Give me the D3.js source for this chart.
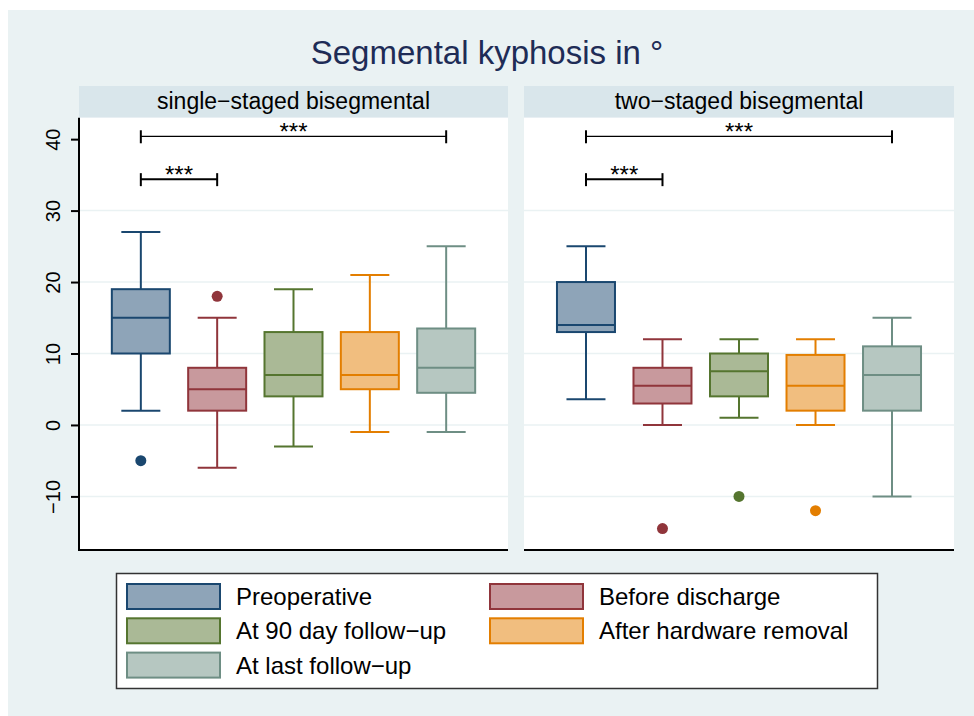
<!DOCTYPE html>
<html>
<head>
<meta charset="utf-8">
<script src="https://cdn.jsdelivr.net/npm/d3@7"></script>
<style>
  body { margin: 0; background: #fff; }
  text { font-family: "Liberation Sans", Arial, sans-serif; }
</style>
</head>
<body>
<div id="container"></div>
<script>
// groups shown in each panel (legend order)
const groups = ["Preoperative", "Before discharge", "At 90 day follow\u2212up", "After hardware removal", "At last follow\u2212up"];
const panels = ["single\u2212staged bisegmental", "two\u2212staged bisegmental"];

// [lower whisker, q1, median, q3, upper whisker]
const singleStats = [
  [2, 10, 15, 19, 27],
  [-6, 2, 5, 8, 15],
  [-3, 4, 7, 13, 19],
  [-1, 5, 7, 13, 21],
  [-1, 4.5, 8, 13.5, 25]
];
const singleOutliers = [[-5], [18], [], [], []];

const twoStats = [
  [3.6, 13, 14, 20, 25],
  [0, 3, 5.5, 8, 12],
  [1, 4, 7.5, 10, 12],
  [0, 2, 5.5, 9.8, 12],
  [-10, 2, 7, 11, 15]
];
const twoOutliers = [[], [-14.5], [-10], [-12], []];

const yTicks = [-10, 0, 10, 20, 30, 40];

// significance brackets: group index from/to, height in degrees
const bracketFrom = [0, 0];
const bracketTo = [1, 4];
const bracketLevel = [34.4, 40.4];
const bracketLabel = ["***", "***"];

const strokeColors = ["#1a476f", "#90353b", "#55752f", "#e37e00", "#6e8e84"];
const fillColors = ["#8ea4b8", "#c8999d", "#aab996", "#f1be7f", "#b6c7c1"];

const w = 974;
const h = 716;
const plotTop = 117.7;
const plotBottom = 550;
const panelX = [[79, 508], [524, 954]];

const svg = d3.select("#container")
  .append("svg")
  .attr("width", w)
  .attr("height", h);

svg.append("rect")
  .attr("x", 8).attr("y", 10)
  .attr("width", w - 8).attr("height", h - 10)
  .attr("fill", "#eaf2f3");

svg.append("text")
  .attr("x", 487)
  .attr("y", 64)
  .attr("text-anchor", "middle")
  .attr("fill", "#1e2c56")
  .style("font-size", "33px")
  .text("Segmental kyphosis in \u00b0");

const yScale = d3.scaleLinear()
  .domain([-17.5, 43])
  .range([plotBottom, plotTop]);

const panelData = [
  { stats: singleStats, outliers: singleOutliers },
  { stats: twoStats, outliers: twoOutliers }
];

panelData.forEach((p, pi) => {
  const [x0, x1] = panelX[pi];
  const xScale = d3.scalePoint()
    .domain(groups)
    .range([x0, x1])
    .padding(0.81);

  // header strip
  svg.append("rect")
    .attr("x", x0).attr("y", 86)
    .attr("width", x1 - x0).attr("height", plotTop - 86)
    .attr("fill", "#d9e6eb");
  svg.append("text")
    .attr("x", (x0 + x1) / 2)
    .attr("y", 109)
    .attr("text-anchor", "middle")
    .attr("fill", "#000")
    .style("font-size", "23px")
    .text(panels[pi]);

  // plot region
  svg.append("rect")
    .attr("x", x0).attr("y", plotTop)
    .attr("width", x1 - x0).attr("height", plotBottom - plotTop)
    .attr("fill", "#fff");

  const g = svg.append("g");

  g.selectAll("line.grid")
    .data(yTicks.filter(t => t < 40))
    .enter()
    .append("line")
    .attr("class", "grid")
    .attr("x1", x0).attr("x2", x1)
    .attr("y1", d => yScale(d)).attr("y2", d => yScale(d))
    .attr("stroke", "#eaf2f3")
    .attr("stroke-width", 1.5);

  const boxW = 58;
  const capW = 39;

  const boxes = g.selectAll("g.box")
    .data(p.stats)
    .enter()
    .append("g")
    .attr("class", "box");

  // whiskers
  boxes.append("line")
    .attr("x1", (d, i) => xScale(groups[i])).attr("x2", (d, i) => xScale(groups[i]))
    .attr("y1", d => yScale(d[0])).attr("y2", d => yScale(d[4]))
    .attr("stroke", (d, i) => strokeColors[i])
    .attr("stroke-width", 2);
  [0, 4].forEach(k => {
    boxes.append("line")
      .attr("x1", (d, i) => xScale(groups[i]) - capW / 2)
      .attr("x2", (d, i) => xScale(groups[i]) + capW / 2)
      .attr("y1", d => yScale(d[k])).attr("y2", d => yScale(d[k]))
      .attr("stroke", (d, i) => strokeColors[i])
      .attr("stroke-width", 2);
  });

  boxes.append("rect")
    .attr("x", (d, i) => xScale(groups[i]) - boxW / 2)
    .attr("width", boxW)
    .attr("y", d => yScale(d[3]))
    .attr("height", d => yScale(d[1]) - yScale(d[3]))
    .attr("fill", (d, i) => fillColors[i])
    .attr("stroke", (d, i) => strokeColors[i])
    .attr("stroke-width", 2);

  boxes.append("line")
    .attr("x1", (d, i) => xScale(groups[i]) - boxW / 2)
    .attr("x2", (d, i) => xScale(groups[i]) + boxW / 2)
    .attr("y1", d => yScale(d[2])).attr("y2", d => yScale(d[2]))
    .attr("stroke", (d, i) => strokeColors[i])
    .attr("stroke-width", 2);

  // outside values
  p.outliers.forEach((vals, i) => {
    g.selectAll(null)
      .data(vals)
      .enter()
      .append("circle")
      .attr("cx", xScale(groups[i]))
      .attr("cy", d => yScale(d))
      .attr("r", 5.5)
      .attr("fill", strokeColors[i]);
  });

  // brackets
  bracketLevel.forEach((lv, b) => {
    const bx0 = xScale(groups[bracketFrom[b]]);
    const bx1 = xScale(groups[bracketTo[b]]);
    const by = yScale(lv);
    const sw = b === 0 ? 2 : 1.3;
    g.append("line")
      .attr("x1", bx0).attr("x2", bx1)
      .attr("y1", by).attr("y2", by)
      .attr("stroke", "#000").attr("stroke-width", sw);
    [bx0, bx1].forEach(bx => {
      g.append("line")
        .attr("x1", bx).attr("x2", bx)
        .attr("y1", by - 6).attr("y2", by + 7)
        .attr("stroke", "#000").attr("stroke-width", 2);
    });
    g.append("text")
      .attr("x", (bx0 + bx1) / 2)
      .attr("y", by + 4)
      .attr("text-anchor", "middle")
      .style("font-size", "24px")
      .text(bracketLabel[b]);
  });

  // bottom axis line
  g.append("line")
    .attr("x1", x0).attr("x2", x1)
    .attr("y1", plotBottom).attr("y2", plotBottom)
    .attr("stroke", "#000").attr("stroke-width", 2);
});

// y axis on the left panel only
const yAxis = d3.axisLeft(yScale)
  .tickValues(yTicks)
  .tickSize(8)
  .tickPadding(0)
  .tickFormat(d => d < 0 ? "\u2212" + Math.abs(d) : d);

const ya = svg.append("g")
  .attr("transform", `translate(${panelX[0][0]}, 0)`)
  .call(yAxis);
ya.select(".domain")
  .attr("d", `M0,${plotTop}V${plotBottom + 1}`)
  .attr("stroke-width", 2);
ya.selectAll(".tick line").attr("stroke-width", 2);
ya.selectAll(".tick text")
  .attr("x", 0).attr("y", 0).attr("dy", null)
  .attr("transform", "translate(-26,0) rotate(-90)")
  .attr("text-anchor", "middle")
  .attr("dominant-baseline", "central")
  .style("font-size", "20px")
  .style("font-family", "'Liberation Sans', Arial, sans-serif")
  .attr("fill", "#000");

// legend
const legend = svg.append("g");
legend.append("rect")
  .attr("x", 116.5).attr("y", 573.5)
  .attr("width", 761).attr("height", 115)
  .attr("fill", "#fff")
  .attr("stroke", "#333")
  .attr("stroke-width", 1.5);

const legendItems = legend.selectAll("g.item")
  .data(groups)
  .enter()
  .append("g")
  .attr("class", "item")
  .attr("transform", (d, i) => `translate(${i % 2 === 0 ? 127 : 490}, ${584 + Math.floor(i / 2) * 34.3})`);

legendItems.append("rect")
  .attr("width", 93).attr("height", 25)
  .attr("fill", (d, i) => fillColors[i])
  .attr("stroke", (d, i) => strokeColors[i])
  .attr("stroke-width", 2);

legendItems.append("text")
  .attr("x", 109)
  .attr("y", 21)
  .style("font-size", "24px")
  .text(d => d);
</script>
</body>
</html>
